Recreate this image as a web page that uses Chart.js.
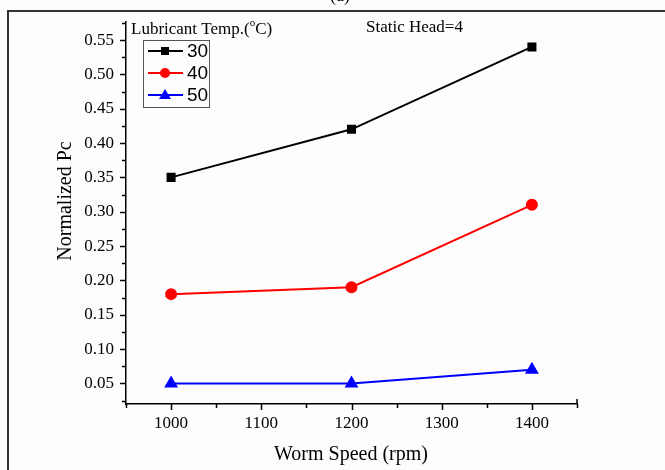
<!DOCTYPE html>
<html>
<head>
<meta charset="utf-8">
<script src="https://cdn.jsdelivr.net/npm/chart.js@4/dist/chart.umd.min.js"></script>
<style>
  html, body { margin: 0; padding: 0; background: #fdfdfd; }
  #wrap { width: 665px; height: 470px; position: relative; }
</style>
</head>
<body>
<div id="wrap"><canvas id="chart" width="665" height="470"></canvas></div>
<script>
// Data
const speeds = [1000, 1200, 1400];
const temps = ['30', '40', '50'];
const pc30 = [0.35, 0.42, 0.54];
const pc40 = [0.18, 0.19, 0.31];
const pc50 = [0.05, 0.05, 0.07];
const xTickValues = [1000, 1100, 1200, 1300, 1400];
const yTickValues = [0.05, 0.10, 0.15, 0.20, 0.25, 0.30, 0.35, 0.40, 0.45, 0.50, 0.55];

const serif = '"Liberation Serif", "Times New Roman", serif';
const sans = '"Liberation Sans", Arial, sans-serif';

const toPoints = vals => speeds.map((s, i) => ({ x: s, y: vals[i] }));

// axis ticks (major + minor), legend box, titles and frame
const decorations = {
    id: 'decorations',
    afterDraw(chart) {
        const ctx = chart.ctx;
        const xs = chart.scales.x;
        const ys = chart.scales.y;
        const area = chart.chartArea;
        ctx.save();
        ctx.strokeStyle = '#000';
        ctx.lineWidth = 1.5;

        // x ticks every 50, majors every 100
        for (let v = 950; v <= 1450; v += 50) {
            const px = Math.round(xs.getPixelForValue(v)) + 0.5;
            const len = v % 100 === 0 ? 6 : 4;
            ctx.beginPath();
            ctx.moveTo(px, area.bottom);
            ctx.lineTo(px, area.bottom + len);
            ctx.stroke();
        }
        // little upward tick at the right end of the x axis
        ctx.beginPath();
        ctx.moveTo(area.right, area.bottom);
        ctx.lineTo(area.right, area.bottom - 5);
        ctx.stroke();

        // y ticks every 0.025
        for (let k = 1; k <= 23; k++) {
            const v = k * 0.025;
            if (v < ys.min - 1e-9 || v > ys.max + 1e-9) continue;
            const py = Math.round(ys.getPixelForValue(v)) + 0.5;
            const len = k % 2 === 0 ? 6 : 4;
            ctx.beginPath();
            ctx.moveTo(area.left, py);
            ctx.lineTo(area.left - len, py);
            ctx.stroke();
        }

        // axis titles
        ctx.fillStyle = '#000';
        ctx.font = '20px ' + serif;
        ctx.textAlign = 'center';
        ctx.textBaseline = 'middle';
        ctx.fillText('Worm Speed (rpm)', 351, 455);
        ctx.save();
        ctx.translate(66, 201);
        ctx.rotate(-Math.PI / 2);
        ctx.fillText('Normalized Pc', 0, 0);
        ctx.restore();

        // annotation
        ctx.font = '17px ' + serif;
        ctx.textAlign = 'left';
        ctx.fillText('Static Head=4', 366, 28);

        // legend title with superscript o
        let lx = 131;
        ctx.font = '17px ' + serif;
        ctx.fillText('Lubricant Temp.(', lx, 30);
        lx += ctx.measureText('Lubricant Temp.(').width;
        ctx.font = '11px ' + serif;
        ctx.fillText('o', lx, 23);
        lx += ctx.measureText('o').width;
        ctx.font = '17px ' + serif;
        ctx.fillText('C)', lx, 30);

        // legend box
        ctx.strokeStyle = '#555';
        ctx.lineWidth = 1;
        ctx.strokeRect(143.5, 40.5, 66, 67);
        chart.data.datasets.forEach((ds, i) => {
            const y = 51 + i * 22;
            ctx.strokeStyle = ds.borderColor;
            ctx.lineWidth = 2;
            ctx.beginPath();
            ctx.moveTo(148, y);
            ctx.lineTo(183, y);
            ctx.stroke();
            ctx.fillStyle = ds.borderColor;
            drawMarker(ctx, ds.pointStyle, 165, y);
            ctx.fillStyle = '#000';
            ctx.font = '19px ' + sans;
            ctx.textAlign = 'left';
            ctx.fillText(ds.label, 187, y + 1);
        });

        // outer frame and the cut-off panel label
        ctx.strokeStyle = '#333';
        ctx.lineWidth = 2;
        ctx.beginPath();
        ctx.moveTo(8, 470);
        ctx.lineTo(8, 11);
        ctx.lineTo(665, 11);
        ctx.stroke();
        ctx.fillStyle = '#000';
        ctx.font = '18px ' + serif;
        ctx.textAlign = 'center';
        ctx.textBaseline = 'alphabetic';
        ctx.fillText('(a)', 340, 1);
        ctx.restore();
    }
};

function drawMarker(ctx, style, x, y) {
    ctx.beginPath();
    if (style === 'rect') {
        ctx.rect(x - 4, y - 4, 8, 8);
    } else if (style === 'circle') {
        ctx.arc(x, y, 5, 0, Math.PI * 2);
    } else {
        ctx.moveTo(x, y - 6);
        ctx.lineTo(x + 6, y + 4);
        ctx.lineTo(x - 6, y + 4);
        ctx.closePath();
    }
    ctx.fill();
}

new Chart(document.getElementById('chart'), {
    type: 'line',
    data: {
        datasets: [
            { label: temps[0], data: toPoints(pc30), borderColor: '#000000', backgroundColor: '#000000',
              pointStyle: 'rect', pointRadius: 5, borderWidth: 2 },
            { label: temps[1], data: toPoints(pc40), borderColor: '#ff0000', backgroundColor: '#ff0000',
              pointStyle: 'circle', pointRadius: 5, borderWidth: 2 },
            { label: temps[2], data: toPoints(pc50), borderColor: '#0000ff', backgroundColor: '#0000ff',
              pointStyle: 'triangle', pointRadius: 6, borderWidth: 2 }
        ]
    },
    options: {
        responsive: false,
        animation: false,
        layout: { padding: { top: 18, right: 88, left: 0, bottom: 0 } },
        plugins: { legend: { display: false }, tooltip: { enabled: false } },
        scales: {
            x: {
                type: 'linear',
                min: 950,
                max: 1450,
                afterFit: s => { s.height = 66; },
                afterBuildTicks: s => { s.ticks = xTickValues.map(v => ({ value: v })); },
                grid: { display: true, drawOnChartArea: false, drawTicks: false },
                border: { display: true, color: '#000', width: 1.5 },
                ticks: { color: '#000', font: { family: serif, size: 17 }, padding: 9, maxRotation: 0,
                         callback: v => String(v) }
            },
            y: {
                type: 'linear',
                min: 0.02,
                max: 0.576,
                afterFit: s => { s.width = 126; },
                afterBuildTicks: s => { s.ticks = yTickValues.map(v => ({ value: v })); },
                grid: { display: true, drawOnChartArea: false, drawTicks: false },
                border: { display: true, color: '#000', width: 1.5 },
                ticks: { color: '#000', font: { family: serif, size: 17 }, padding: 12,
                         callback: v => v.toFixed(2) }
            }
        }
    },
    plugins: [decorations]
});
</script>
</body>
</html>
